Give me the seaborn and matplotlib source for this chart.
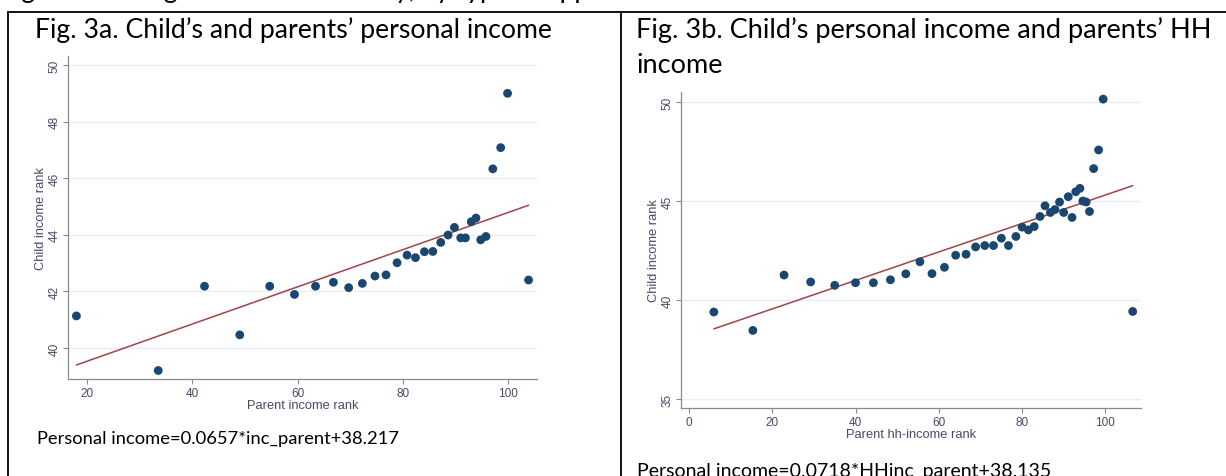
import matplotlib
matplotlib.use('Agg')
import matplotlib.pyplot as plt
from matplotlib.lines import Line2D
import seaborn as sns

# --- data ---
# Fig. 3a: parent personal income rank vs child income rank
a_parent = [17.95, 33.5, 42.3, 49.0, 54.7, 59.4, 63.4, 66.8, 69.7, 72.3,
            74.7, 76.8, 78.9, 80.8, 82.4, 84.1, 85.7, 87.2, 88.6, 89.8,
            91.0, 91.9, 93.0, 93.9, 94.8, 95.8, 97.1, 98.6, 99.9, 103.9]
a_child = [41.13, 39.2, 42.18, 40.46, 42.18, 41.89, 42.18, 42.32, 42.13, 42.28,
           42.54, 42.58, 43.01, 43.28, 43.19, 43.4, 43.41, 43.73, 43.99, 44.26,
           43.89, 43.89, 44.46, 44.59, 43.82, 43.94, 46.33, 47.08, 49.0, 42.4]
a_slope, a_const = 0.0657, 38.217

# Fig. 3b: parent household income rank vs child income rank
b_parent = [5.9, 15.3, 22.8, 29.2, 35.0, 40.0, 44.3, 48.4, 52.1, 55.5,
            58.4, 61.4, 64.1, 66.6, 68.9, 71.1, 73.2, 75.1, 76.8, 78.6,
            80.1, 81.6, 83.0, 84.4, 85.6, 86.9, 88.0, 89.1, 90.1, 91.2,
            92.1, 93.0, 94.0, 94.7, 95.5, 96.3, 97.3, 98.5, 99.6, 106.7]
b_child = [39.41, 38.48, 41.28, 40.93, 40.76, 40.89, 40.89, 41.04, 41.34, 41.95,
           41.35, 41.67, 42.28, 42.33, 42.70, 42.77, 42.77, 43.14, 42.77, 43.23,
           43.70, 43.56, 43.73, 44.24, 44.78, 44.44, 44.59, 44.97, 44.44, 45.24,
           44.19, 45.49, 45.66, 45.02, 44.97, 44.49, 46.66, 47.6, 50.17, 39.44]
b_slope, b_const = 0.0718, 38.135

a_xticks = [20, 40, 60, 80, 100]
a_yticks = [40, 42, 44, 46, 48, 50]
b_xticks = [0, 20, 40, 60, 80, 100]
b_yticks = [35, 40, 45, 50]

title_a = 'Fig. 3a. Child\u2019s and parents\u2019 personal income'
title_b1 = 'Fig. 3b. Child\u2019s personal income and parents\u2019 HH'
title_b2 = 'income'
formula_a = 'Personal income=0.0657*inc_parent+38.217'
formula_b = 'Personal income=0.0718*HHinc_parent+38.135'
heading = 'Figure 3. Intergenerational mobility, by type of approach'

sns.set_style('white')
plt.rcParams['font.family'] = ['Liberation Sans', 'DejaVu Sans']

W, H = 1226, 477
navy = '#1a476f'
maroon = '#a0454a'
grid_c = '#e6eff1'
txt_c = '#4a4a66'
doc_font = ['Lato', 'DejaVu Sans']

fig = plt.figure(figsize=(W / 100, H / 100), dpi=100)


def px_rect(l, t, r, b):
    return [l / W, 1 - b / H, (r - l) / W, (b - t) / H]


def stata_axes(ax, xlim, ylim, xticks, yticks, xlabel, ylabel):
    ax.set_xlim(*xlim)
    ax.set_ylim(*ylim)
    ax.set_xticks(xticks)
    ax.set_yticks(yticks)
    ax.set_yticklabels([str(t) for t in yticks], rotation=90, va='center')
    ax.grid(axis='y', color=grid_c, lw=1.0)
    ax.grid(axis='x', visible=False)
    for s in ['top', 'right']:
        ax.spines[s].set_visible(False)
    for s in ['left', 'bottom']:
        ax.spines[s].set_color('#8a8a8a')
        ax.spines[s].set_linewidth(0.9)
    ax.tick_params(axis='both', length=3.5, width=0.8, color='#8a8a8a',
                   labelsize=8.5, labelcolor=txt_c, pad=2, left=True, bottom=True)
    ax.set_xlabel(xlabel, fontsize=9.3, color=txt_c, labelpad=0)
    ax.set_ylabel(ylabel, fontsize=9.3, color=txt_c, labelpad=1)
    ax.set_facecolor('white')


# Panel a
ax_a = fig.add_axes(px_rect(68, 57, 537, 380))
sns.scatterplot(x=a_parent, y=a_child, ax=ax_a, color=navy, s=40,
                edgecolor='none', zorder=3)
a_fit_x = [min(a_parent), max(a_parent)]
a_fit_y = [a_slope * v + a_const for v in a_fit_x]
sns.lineplot(x=a_fit_x, y=a_fit_y, ax=ax_a, color=maroon, lw=1.1, zorder=2)
stata_axes(ax_a, (16.35, 105.5), (38.9, 50.32), a_xticks, a_yticks,
           'Parent income rank', 'Child income rank')

# Panel b
ax_b = fig.add_axes(px_rect(681, 93, 1141, 409))
sns.scatterplot(x=b_parent, y=b_child, ax=ax_b, color=navy, s=40,
                edgecolor='none', zorder=3)
b_fit_x = [min(b_parent), max(b_parent)]
b_fit_y = [b_slope * v + b_const for v in b_fit_x]
sns.lineplot(x=b_fit_x, y=b_fit_y, ax=ax_b, color=maroon, lw=1.1, zorder=2)
stata_axes(ax_b, (-2.0, 108.7), (34.56, 50.53), b_xticks, b_yticks,
           'Parent hh-income rank', 'Child income rank')

# document table borders
def fig_line(x0, y0, x1, y1):
    fig.add_artist(Line2D([x0 / W, x1 / W], [1 - y0 / H, 1 - y1 / H],
                          transform=fig.transFigure, color='black', lw=1.3))


fig_line(8, 13, W, 13)
fig_line(8, 13, 8, H)
fig_line(621, 13, 621, H)

# document text (the heading line above the table is cut off in the source)
fig.text(0, 1 + 2 / H, heading, fontsize=19, family=doc_font,
         va='baseline', ha='left', color='black')
fig.text(35 / W, 1 - 38 / H, title_a, fontsize=19.2, family=doc_font,
         va='baseline', ha='left', color='black')
fig.text(636 / W, 1 - 38 / H, title_b1, fontsize=19.5, family=doc_font,
         va='baseline', ha='left', color='black')
fig.text(636 / W, 1 - 73 / H, title_b2, fontsize=19.5, family=doc_font,
         va='baseline', ha='left', color='black')
fig.text(37 / W, 1 - 439 / H, formula_a, fontsize=13.2, family=doc_font,
         va='center', ha='left', color='black')
fig.text(637 / W, 1 - 471 / H, formula_b, fontsize=14, family=doc_font,
         va='center', ha='left', color='black')

fig.savefig('out.png', dpi=100, facecolor='white')
